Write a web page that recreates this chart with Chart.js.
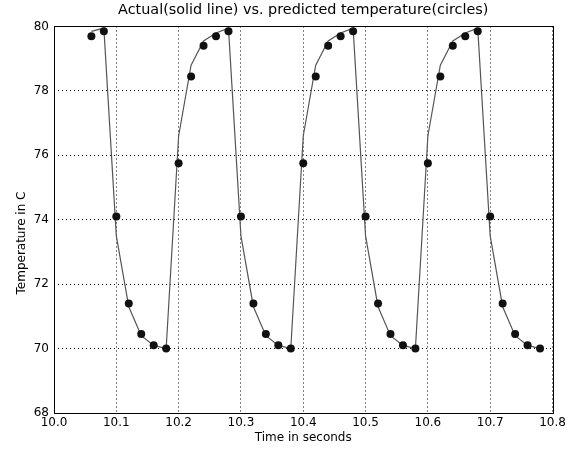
<!DOCTYPE html>
<html>
<head>
<meta charset="utf-8">
<script src="https://cdn.jsdelivr.net/npm/chart.js@4"></script>
<style>
  html, body { margin: 0; padding: 0; background: #fff; }
  #wrap { width: 575px; height: 449px; }
</style>
</head>
<body>
<div id="wrap"><canvas id="chart"></canvas></div>
<script>
const TIMES = [
    10.06, 10.08,
    10.10, 10.12, 10.14, 10.16, 10.18, 10.20, 10.22, 10.24, 10.26, 10.28,
    10.30, 10.32, 10.34, 10.36, 10.38, 10.40, 10.42, 10.44, 10.46, 10.48,
    10.50, 10.52, 10.54, 10.56, 10.58, 10.60, 10.62, 10.64, 10.66, 10.68,
    10.70, 10.72, 10.74, 10.76, 10.78
];

// solid line
const ACTUAL = [
    79.85, 79.95,
    73.5, 71.3, 70.4, 70.1, 70.0, 76.6, 78.8, 79.55, 79.8, 79.95,
    73.5, 71.3, 70.4, 70.1, 70.0, 76.6, 78.8, 79.55, 79.8, 79.95,
    73.5, 71.3, 70.4, 70.1, 70.0, 76.6, 78.8, 79.55, 79.8, 79.95,
    73.5, 71.3, 70.4, 70.1, 70.0
];

// circles
const PREDICTED = [
    79.7, 79.85,
    74.1, 71.4, 70.45, 70.1, 70.0, 75.75, 78.45, 79.4, 79.7, 79.85,
    74.1, 71.4, 70.45, 70.1, 70.0, 75.75, 78.45, 79.4, 79.7, 79.85,
    74.1, 71.4, 70.45, 70.1, 70.0, 75.75, 78.45, 79.4, 79.7, 79.85,
    74.1, 71.4, 70.45, 70.1, 70.0
];

const X_TICKS = ['10.0', '10.1', '10.2', '10.3', '10.4', '10.5', '10.6', '10.7', '10.8'];
const Y_TICKS = [68, 70, 72, 74, 76, 78, 80];

const FONT = '"DejaVu Sans", sans-serif';

const frame = {
    id: 'frame',
    afterDraw(chart) {
        const {ctx, chartArea: a} = chart;
        ctx.save();
        ctx.strokeStyle = '#000';
        ctx.lineWidth = 1;
        ctx.strokeRect(Math.round(a.left) + 0.5, Math.round(a.top) + 0.5,
            Math.round(a.right - a.left), Math.round(a.bottom - a.top));
        // y label
        ctx.translate(22, 243);
        ctx.rotate(-Math.PI / 2);
        ctx.fillStyle = '#000';
        ctx.font = '12px ' + FONT;
        ctx.textAlign = 'center';
        ctx.textBaseline = 'middle';
        ctx.fillText('Temperature in C', 0, 0);
        ctx.restore();
    }
};

new Chart(document.getElementById('chart'), {
    type: 'scatter',
    data: {
        datasets: [
            {
                label: 'predicted',
                data: TIMES.map((t, i) => ({x: t, y: PREDICTED[i]})),
                showLine: false,
                pointRadius: 4,
                pointHoverRadius: 4,
                backgroundColor: '#111',
                borderColor: '#111',
                borderWidth: 0,
                order: 0,
            },
            {
                label: 'actual',
                data: TIMES.map((t, i) => ({x: t, y: ACTUAL[i]})),
                showLine: true,
                pointRadius: 0,
                borderColor: '#555',
                borderWidth: 1.2,
                tension: 0,
                order: 1,
            },
        ]
    },
    options: {
        responsive: true,
        maintainAspectRatio: false,
        animation: false,
        layout: {padding: {left: 0, right: 22.5, top: 0, bottom: 0}},
        scales: {
            x: {
                type: 'linear',
                min: 10.0,
                max: 10.8,
                afterBuildTicks: s => { s.ticks = X_TICKS.map(v => ({value: parseFloat(v)})); },
                afterFit: s => { s.height = 36; },
                ticks: {
                    color: '#000',
                    padding: 3,
                    maxRotation: 0,
                    font: {family: FONT, size: 12},
                    callback: v => v.toFixed(1),
                },
                grid: {color: '#000', lineWidth: 1, drawTicks: false},
                border: {display: false, dash: [1, 3]},
                title: {
                    display: true,
                    text: 'Time in seconds',
                    color: '#000',
                    font: {family: FONT, size: 12},
                    padding: {top: 0, bottom: 4.3},
                },
            },
            y: {
                min: 68,
                max: 80,
                afterBuildTicks: s => { s.ticks = Y_TICKS.map(v => ({value: v})); },
                afterFit: s => { s.width = 54; },
                ticks: {
                    color: '#000',
                    padding: 5,
                    font: {family: FONT, size: 12},
                },
                grid: {color: '#000', lineWidth: 1, drawTicks: false},
                border: {display: false, dash: [1, 3]},
            },
        },
        plugins: {
            legend: {display: false},
            tooltip: {enabled: false},
            title: {
                display: true,
                fullSize: false,
                text: 'Actual(solid line) vs. predicted temperature(circles)',
                color: '#000',
                font: {family: FONT, size: 14.4, weight: 'normal'},
                padding: {top: 2, bottom: 7.2},
            },
        },
    },
    plugins: [frame],
});
</script>
</body>
</html>
